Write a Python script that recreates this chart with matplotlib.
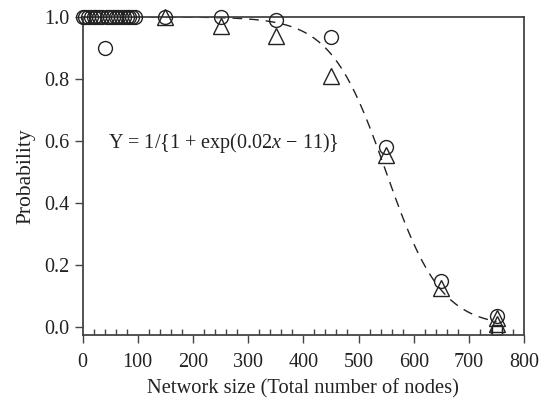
import matplotlib.pyplot as plt
import numpy as np

plt.rcParams["font.family"] = ["Liberation Serif", "DejaVu Serif"]
plt.rcParams["mathtext.fontset"] = "custom"
plt.rcParams["mathtext.rm"] = "Liberation Serif"
plt.rcParams["mathtext.it"] = "Liberation Serif:italic"

# circles (observed)
circleX = [0, 5, 10, 15, 20, 25, 30, 35, 45, 50, 55, 60, 65, 70, 75, 80, 85, 90, 95, 40,
           150, 250, 350, 450, 550, 650, 750]
circleY = [1.0, 1.0, 1.0, 1.0, 1.0, 1.0, 1.0, 1.0, 1.0, 1.0, 1.0, 1.0, 1.0, 1.0, 1.0, 1.0, 1.0, 1.0, 1.0, 0.90,
           1.0, 1.0, 0.99, 0.935, 0.58, 0.15, 0.035]

# triangles
triX = [150, 250, 350, 450, 550, 650, 750, 750]
triY = [1.0, 0.97, 0.94, 0.81, 0.556, 0.125, 0.03, 0.01]

# square
sqX = [750]
sqY = [-0.01]

# fitted curve parameters from Y = 1/{1+exp(0.02x-11)}
fitA = 0.02
fitB = 11
fitRange = [0, 750]

xFit = np.linspace(fitRange[0], fitRange[1], 300)
yFit = 1 / (1 + np.exp(fitA * xFit - fitB))

fig = plt.figure(figsize=(5.52, 4.03), dpi=100)
ax = fig.add_axes([0.1495, 0.169, 0.8, 0.789])

ax.plot(xFit, yFit, linestyle=(0, (7, 5)), color="#222222", linewidth=1.0, zorder=1)
ax.plot(circleX, circleY, "o", markersize=10, markerfacecolor="none",
        markeredgecolor="#222222", markeredgewidth=1.0, zorder=3, clip_on=False)
ax.plot(triX, triY, "^", markersize=11, markerfacecolor="none",
        markeredgecolor="#222222", markeredgewidth=1.0, zorder=3, clip_on=False)
ax.plot(sqX, sqY, "s", markersize=7, markerfacecolor="none",
        markeredgecolor="#222222", markeredgewidth=1.0, zorder=2)

ax.text(47, 0.595, r"Y = 1/{1 + exp(0.02$\it{x}$ − 11)}", fontsize=14.5,
        color="#222222", va="center")

ax.set_xlim(0, 800)
ax.set_ylim(-0.025, 1.0)
ax.set_xticks(np.arange(0, 801, 100))
ax.set_xticks(np.arange(0, 801, 20), minor=True)
ax.set_yticks(np.arange(0, 1.01, 0.2))
ax.set_yticklabels(["0.0", "0.2", "0.4", "0.6", "0.8", "1.0"])

ax.tick_params(axis="both", which="major", direction="out", length=6,
               width=1.0, color="#444444", labelsize=14.5, labelcolor="#222222")
ax.tick_params(axis="x", which="major", pad=7)
ax.tick_params(axis="x", which="minor", direction="in", length=4,
               width=1.0, color="#444444")
ax.tick_params(axis="y", which="minor", left=False)

for s in ax.spines.values():
    s.set_color("#444444")
    s.set_linewidth(1.3)

ax.set_xlabel("Network size (Total number of nodes)", fontsize=14.8, color="#222222",
              labelpad=5)
ax.set_ylabel("Probability", fontsize=15.5, color="#222222", labelpad=6)

fig.savefig("out.png", dpi=100)
